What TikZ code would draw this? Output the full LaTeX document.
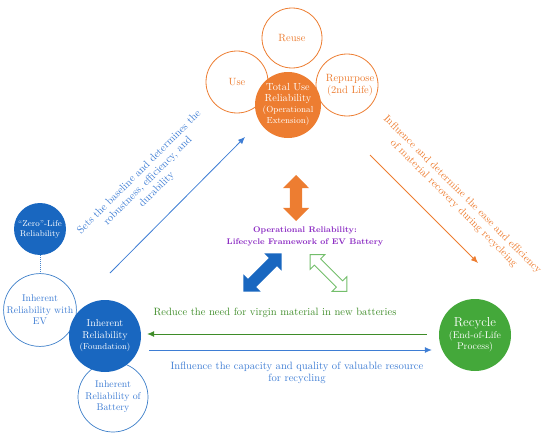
\documentclass[tikz,border=0pt]{standalone}
\usetikzlibrary{shapes.arrows,arrows.meta}
\definecolor{orng}{RGB}{237,125,49}
\definecolor{dblue}{RGB}{25,103,192}
\definecolor{lblue}{RGB}{62,125,212}
\definecolor{grn}{RGB}{68,168,58}
\definecolor{dgrn}{RGB}{62,140,40}
\definecolor{purp}{RGB}{140,45,195}
\begin{document}
\begin{tikzpicture}[x=1pt,y=1pt,
  ocirc/.style={circle, draw=orng, line width=0.8pt, fill=white, text=orng, inner sep=0pt, align=center, font=\fontsize{10.5}{11.5}\selectfont},
  bcirc/.style={circle, draw=dblue!85, line width=0.7pt, fill=white, text=lblue, inner sep=0pt, align=center, font=\fontsize{9.8}{11.5}\selectfont},
  fcirc/.style={circle, inner sep=0pt, align=center, text=white},
  lbl/.style={align=center, inner sep=0pt, font=\fontsize{10.6}{12.3}\selectfont},
  thinarrow/.style={line width=0.8pt, -{Latex[length=7pt,width=6pt]}},
  blockarrow/.style={double arrow, inner xsep=0pt},
]
\useasboundingbox (0,0) rectangle (550,-439);

% ---- top cluster
\node[ocirc, minimum size=60pt] (reuse) at (292,-38) {Reuse};
\node[ocirc, minimum size=62pt] (use) at (237,-82) {Use};
\node[ocirc, minimum size=62pt] (repurpose) at (347,-85) {};
\node[text=orng, align=center, inner sep=0pt, font=\fontsize{10.5}{11.5}\selectfont] (reptext) at (350,-85) {Repurpose\\(2nd Life)};
\node[fcirc, fill=orng, minimum size=66pt, font=\fontsize{10.3}{11}\selectfont] (total) at (288,-105)
  {Total Use\\Reliability\\{\fontsize{8.8}{11}\selectfont (Operational}\\{\fontsize{8.8}{11}\selectfont Extension)}};

% ---- left cluster
\node[fcirc, fill=dblue, minimum size=52pt, font=\fontsize{8.4}{10}\selectfont] (zero) at (40,-229) {``Zero''-Life\\Reliability};
\node[bcirc, minimum size=72pt] (withev) at (40,-310) {Inherent\\Reliability with\\EV};
\node[bcirc, minimum size=70pt] (battery) at (113,-397) {Inherent\\Reliability of\\Battery};
\node[fcirc, fill=dblue, minimum size=72pt, font=\fontsize{10}{11.5}\selectfont] (found) at (105,-336)
  {Inherent\\Reliability\\{\fontsize{8.6}{11.5}\selectfont (Foundation)}};
\draw[dblue!80, densely dotted, line width=1pt] (zero.south) -- (withev.north);

% ---- recycle
\node[fcirc, fill=grn, minimum size=72pt, font=\fontsize{9.8}{11.5}\selectfont] (recycle) at (475,-335)
  {{\fontsize{13}{13}\selectfont Recycle}\\(End-of-Life\\Process)};

% ---- center
\node[text=purp, align=center, inner sep=0pt, font=\bfseries\fontsize{8.2}{12}\selectfont] (center) at (305,-236)
  {Operational Reliability:\\Lifecycle Framework of EV Battery};
\node[blockarrow, fill=orng, inner ysep=6pt, double arrow head extend=7pt, minimum height=46pt, rotate=90] (oarr) at (296,-198) {};
\node[blockarrow, fill=dblue, inner ysep=5.5pt, double arrow head extend=6.5pt, minimum height=54pt, rotate=45] (barr) at (262.5,-272.5) {};
\node[blockarrow, draw=grn!75, line width=0.8pt, fill=white, inner ysep=4pt, double arrow head extend=6pt, minimum height=52pt, rotate=-45] (garr) at (328.5,-273) {};

% ---- connectors
\coordinate (b1) at (110,-273);
\coordinate (b2) at (245,-137);
\draw[thinarrow, lblue] (b1) -- (b2);
\node[lbl, text=lblue, rotate=45] (btext) at (148,-181)
  {Sets the baseline and determines the\\robustness, efficiency, and\\durability};

\coordinate (o1) at (370,-155);
\coordinate (o2) at (478,-263);
\draw[thinarrow, orng] (o1) -- (o2);
\node[lbl, text=orng, rotate=-45] (otext) at (458,-199)
  {Influence and determine the ease and efficiency\\of material recovery during recycleing};

\draw[thinarrow, dgrn] ([xshift=-12pt,yshift=1pt]recycle.west) -- ([xshift=6pt,yshift=2pt]found.east);
\node[lbl, text=dgrn] (gtext) at (275,-313) {Reduce the need for virgin material in new batteries};

\draw[thinarrow, lblue] ([xshift=8pt,yshift=-14pt]found.east) -- ([xshift=-7pt,yshift=-15pt]recycle.west);
\node[lbl, text=lblue] (ltext) at (297,-373) {Influence the capacity and quality of valuable resource\\for recycling};
\end{tikzpicture}
\end{document}
